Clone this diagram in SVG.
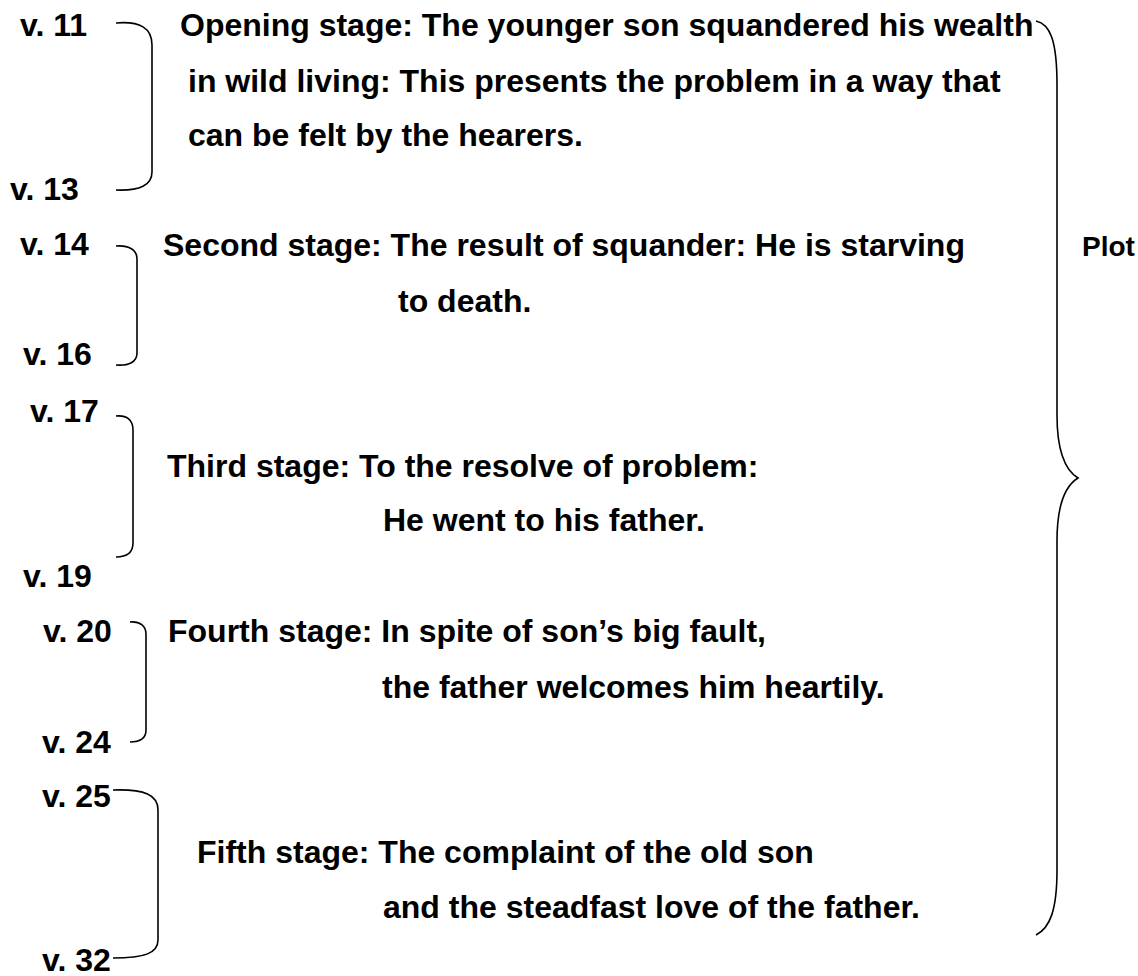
<svg xmlns="http://www.w3.org/2000/svg" width="1138" height="976" viewBox="0 0 1138 976">
<style>
text{font-family:"Liberation Sans",Arial,sans-serif;font-weight:bold;font-size:32px;fill:#000;white-space:pre}
.br{fill:none;stroke:#000;stroke-width:1.6}
</style>
<rect width="1138" height="976" fill="#fff"/>
<g id="verses">
<text x="20" y="36">v. 11</text>
<text x="10" y="200">v. 13</text>
<text x="20" y="255">v. 14</text>
<text x="23" y="365">v. 16</text>
<text x="30" y="422">v. 17</text>
<text x="23" y="587">v. 19</text>
<text x="43" y="642">v. 20</text>
<text x="42" y="753">v. 24</text>
<text x="42" y="807">v. 25</text>
<text x="42" y="971">v. 32</text>
</g>
<g id="stage1">
<text x="180" y="36">Opening stage: The younger son squandered his wealth</text>
<text x="188" y="92">in wild living: This presents the problem in a way that</text>
<text x="188" y="146">can be felt by the hearers.</text>
</g>
<g id="stage2">
<text x="163" y="256">Second stage: The result of squander: He is starving</text>
<text x="398" y="312">to death.</text>
</g>
<g id="stage3">
<text x="167" y="477">Third stage: To the resolve of problem:</text>
<text x="383" y="531">He went to his father.</text>
</g>
<g id="stage4">
<text x="168" y="642">Fourth stage: In spite of son’s big fault,</text>
<text x="382" y="698">the father welcomes him heartily.</text>
</g>
<g id="stage5">
<text x="197" y="863">Fifth stage: The complaint of the old son</text>
<text x="383" y="918">and the steadfast love of the father.</text>
</g>
<g id="plot">
<text x="1082" y="256" style="font-size:28px">Plot</text>
</g>
<g id="connectors">
<path class="br" d="M116,23 C140,21 152,28 152,45 L152,172 C152,185 140,191 116,190"/>
<path class="br" d="M116,246 C129,245 137,250 137,259 L137,353 C137,362 129,366 116,365"/>
<path class="br" d="M116,416 C127,415 133,420 133,430 L133,543 C133,553 127,557 116,557"/>
<path class="br" d="M130,622 C140,621 146,626 146,634 L146,730 C146,738 140,742 130,742"/>
<path class="br" d="M113,790 C145,789 158,795 158,810 L158,940 C158,953 145,958 113,958"/>
<path class="br" d="M1036,21 C1050,24 1057,40 1057,85 L1057,415 C1057,450 1065,470 1078,478 C1065,486 1057,506 1057,541 L1057,870 C1057,910 1050,928 1036,935"/>
</g>
</svg>
